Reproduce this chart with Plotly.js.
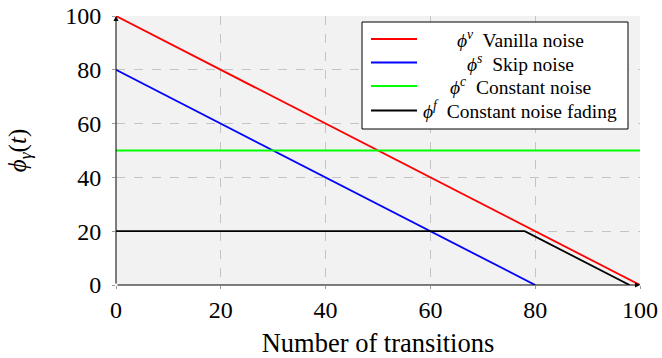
<!DOCTYPE html>
<html>
<head>
<meta charset="utf-8">
<script src="https://cdn.plot.ly/plotly-3.0.1.min.js"></script>
<style>html,body{margin:0;padding:0;background:#fff;}#chart{width:662px;height:358px;}</style>
</head>
<body>
<div id="chart"></div>
<script>
// ---- data ----
const seriesNames = [
  "<i>ϕ</i><sup><i>v</i></sup>  Vanilla noise",
  "<i>ϕ</i><sup><i>s</i></sup>  Skip noise",
  "<i>ϕ</i><sup><i>c</i></sup>  Constant noise",
  "<i>ϕ</i><sup><i>f</i></sup>  Constant noise fading"
];
const seriesColors = ["#ff0000", "#0000ff", "#00ff00", "#000000"];
const vanillaX = [0, 100];
const vanillaY = [100, 0];
const skipX = [0, 80];
const skipY = [80, 0];
const constX = [0, 100];
const constY = [50, 50];
const fadeX = [0, 78, 98];
const fadeY = [20, 20, 0];
const xTicks = [0, 20, 40, 60, 80, 100];
const yTicks = [0, 20, 40, 60, 80, 100];

const seriesX = [vanillaX, skipX, constX, fadeX];
const seriesY = [vanillaY, skipY, constY, fadeY];

const FONT = "Liberation Serif, Times New Roman, serif";

const traces = seriesX.map((xs, i) => ({
  x: xs, y: seriesY[i], type: "scatter", mode: "lines",
  line: {color: seriesColors[i], width: 1.8},
  showlegend: false, hoverinfo: "skip"
}));

// custom centered legend (paper coordinates)
const M = {l: 116, r: 22, t: 16, b: 73};
const W = 662, H = 358;
const pw = W - M.l - M.r, ph = H - M.t - M.b;
const px = v => (v - M.l) / pw;
const py = v => 1 - (v - M.t) / ph;

const shapes = [{
  type: "rect", xref: "paper", yref: "paper",
  x0: px(362), x1: px(628), y0: py(129), y1: py(22),
  line: {color: "#000", width: 1}, fillcolor: "#fff", layer: "above"
}];
const annotations = [];
const rowY = [39, 62.5, 86, 110.5];
seriesNames.forEach((name, i) => {
  shapes.push({
    type: "line", xref: "paper", yref: "paper",
    x0: px(371), x1: px(417), y0: py(rowY[i]), y1: py(rowY[i]),
    line: {color: seriesColors[i], width: 1.8}, layer: "above"
  });
  annotations.push({
    xref: "paper", yref: "paper", x: px(520), y: py(rowY[i]),
    xanchor: "center", yanchor: "middle", showarrow: false,
    text: name, font: {family: FONT, size: 19.5, color: "#000"}
  });
});
// axis arrows
annotations.push({
  x: 0, y: 100, ax: 0, ay: 0, xref: "x", yref: "y", axref: "x", ayref: "y",
  showarrow: true, arrowhead: 2, arrowsize: 1, arrowwidth: 1, arrowcolor: "#000", text: ""
});
annotations.push({
  x: 100, y: 0, ax: 0, ay: 0, xref: "x", yref: "y", axref: "x", ayref: "y",
  showarrow: true, arrowhead: 2, arrowsize: 1, arrowwidth: 1, arrowcolor: "#000", text: ""
});

const axisCommon = {
  range: [0, 100], tickmode: "array",
  showgrid: true, gridcolor: "#c4c4c4", griddash: "dash", gridwidth: 1,
  zeroline: false, showline: false,
  ticks: "outside", ticklen: 3, tickcolor: "#999", tickwidth: 1,
  tickfont: {family: FONT, size: 24, color: "#000"}
};

const layout = {
  width: W, height: H, margin: M,
  paper_bgcolor: "#fff", plot_bgcolor: "#f2f2f2",
  xaxis: Object.assign({}, axisCommon, {
    tickvals: xTicks, ticktext: xTicks.map(String),
    title: {text: "Number of transitions", font: {family: FONT, size: 26.5, color: "#000"}, standoff: 12}
  }),
  yaxis: Object.assign({}, axisCommon, {
    tickvals: yTicks, ticktext: yTicks.map(String),
    ticklabelstandoff: 6,
    title: {text: "<i>ϕ</i><sub><i>γ</i></sub>(<i>t</i>)", font: {family: FONT, size: 25, color: "#000"}, standoff: 31}
  }),
  shapes: shapes, annotations: annotations
};

Plotly.newPlot("chart", traces, layout, {displayModeBar: false, staticPlot: true});
</script>
</body>
</html>
